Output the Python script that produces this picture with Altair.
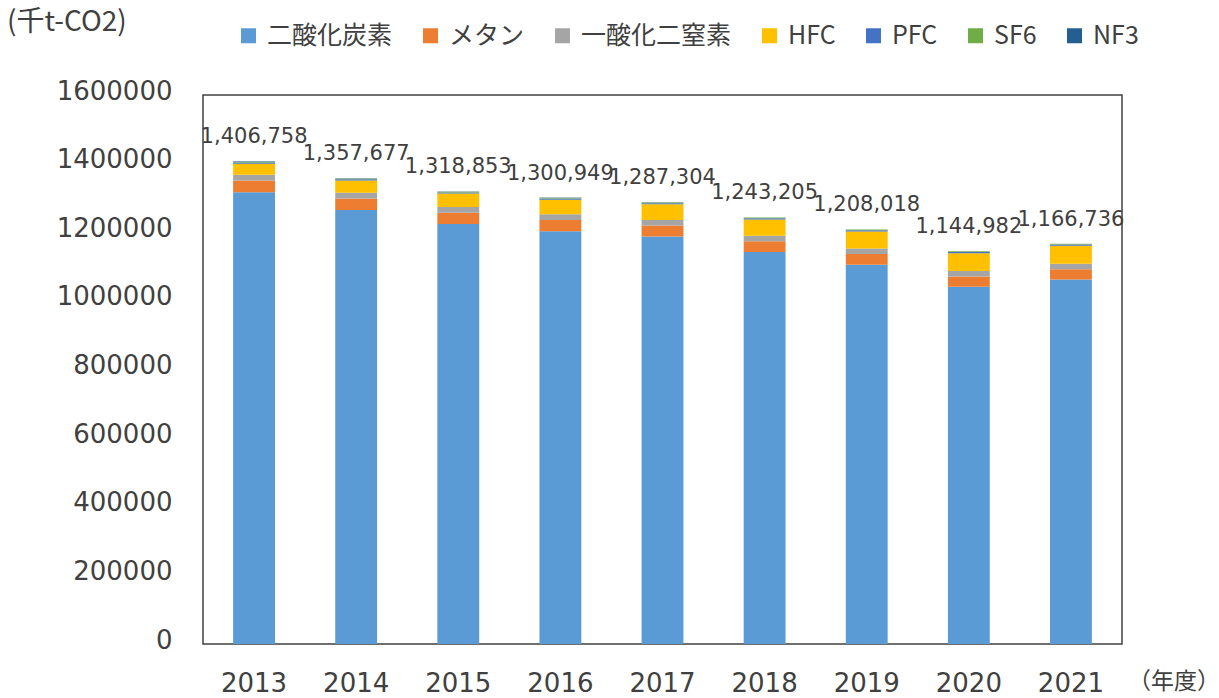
import altair as alt
import pandas as pd

years = ["2013", "2014", "2015", "2016", "2017", "2018", "2019", "2020", "2021"]
totals = [1406758, 1357677, 1318853, 1300949, 1287304, 1243205, 1208018, 1144982, 1166736]

co2 = [1316658, 1264977, 1223953, 1203249, 1187604, 1142305, 1105418, 1040882, 1062036]
ch4 = [34000, 33500, 33000, 32500, 32000, 31500, 31000, 30500, 30000]
n2o = [17000, 16800, 16600, 16400, 16400, 16300, 16200, 16000, 15900]
hfc = [32100, 35800, 39300, 42600, 45300, 47400, 49700, 51700, 53000]
pfc = [3300, 3400, 3300, 3400, 3500, 3400, 3400, 3500, 3400]
sf6 = [2100, 2100, 2100, 2200, 2100, 2000, 2000, 2000, 2100]
nf3 = [1600, 1100, 600, 600, 400, 300, 300, 400, 300]

gases = ["二酸化炭素", "メタン", "一酸化二窒素", "HFC", "PFC", "SF6", "NF3"]
colors = ["#5B9BD5", "#ED7D31", "#A5A5A5", "#FFC000", "#4472C4", "#70AD47", "#255E91"]
series = [co2, ch4, n2o, hfc, pfc, sf6, nf3]

rows = []
for gi, (g, vals) in enumerate(zip(gases, series)):
    for y, v in zip(years, vals):
        rows.append({"year": y, "gas": g, "value": v, "idx": gi})
df = pd.DataFrame(rows)
tot_df = pd.DataFrame({"year": years, "total": totals})

TXT = "#404040"
xscale = alt.Scale(domain=years, paddingInner=0.59, paddingOuter=0.295)
yscale = alt.Scale(domain=[0, 1600000], nice=False)

bars = alt.Chart(df).mark_bar().encode(
    x=alt.X("year:N", scale=xscale,
            axis=alt.Axis(title=None, labelAngle=0, ticks=False, domain=False,
                          labelFont="DejaVu Sans", labelFontSize=26, labelColor=TXT,
                          labelPadding=26)),
    y=alt.Y("value:Q", stack="zero", scale=yscale,
            axis=alt.Axis(title=None, values=list(range(0, 1600001, 200000)), format="d",
                          grid=False, ticks=False, domain=False,
                          labelFont="DejaVu Sans", labelFontSize=26, labelColor=TXT,
                          labelPadding=31, labelOffset=-4)),
    color=alt.Color("gas:N", sort=gases,
                    scale=alt.Scale(domain=gases, range=colors),
                    legend=alt.Legend(title=None, orient="none", legendX=33, legendY=-72,
                                      direction="horizontal", symbolType="square",
                                      symbolSize=225, symbolStrokeWidth=0,
                                      labelFont="Noto Sans CJK JP", labelFontSize=25,
                                      labelColor=TXT, labelOffset=6, columnPadding=25,
                                      labelLimit=400)),
    order=alt.Order("idx:Q", sort="ascending"),
)

labels = alt.Chart(tot_df).mark_text(
    font="DejaVu Sans", fontSize=21, color=TXT, baseline="alphabetic", dy=-18
).encode(
    x=alt.X("year:N", scale=xscale),
    y=alt.Y("total:Q", scale=yscale),
    text=alt.Text("total:Q", format=",d"),
)

one = pd.DataFrame({"a": [0]})
unit = alt.Chart(one).mark_text(
    text="(千t-CO2)", font="Noto Sans CJK JP", fontSize=28, color=TXT,
    align="left", baseline="middle"
).encode(x=alt.value(-196), y=alt.value(-72))

nendo = alt.Chart(one).mark_text(
    text="（年度）", font="Noto Sans CJK JP", fontSize=23, color=TXT,
    align="left", baseline="middle"
).encode(x=alt.value(925), y=alt.value(587))

chart = alt.layer(bars, labels, unit, nendo).properties(
    width=919, height=549,
    autosize=alt.AutoSizeParams(type="none"),
    padding={"left": 203, "top": 95, "right": 97, "bottom": 54},
    background="white",
).configure_view(stroke="#404040", strokeWidth=1.5)

chart.save("out.html", embed_options={"renderer": "svg", "actions": False})
